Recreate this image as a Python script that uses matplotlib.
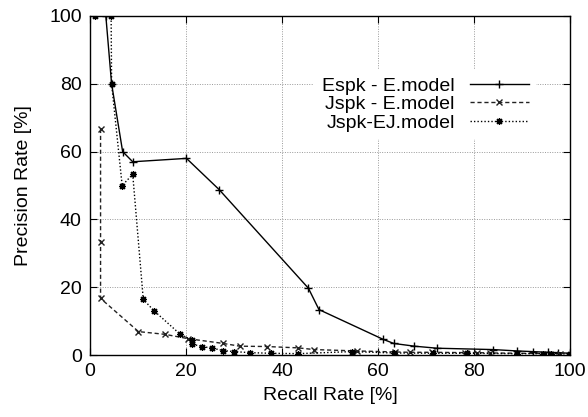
import matplotlib
matplotlib.use("Agg")
import matplotlib.pyplot as plt

plt.rcParams['font.family'] = ['Liberation Sans', 'DejaVu Sans']

espk_x = [3.3, 4.5, 6.8, 8.9, 20.1, 26.9, 45.5, 47.7, 61.1, 63.3, 67.6, 72.3, 84.0, 88.9, 92.2, 95.5, 97.5, 100]
espk_y = [100, 80, 60, 57, 58, 48.8, 19.7, 13.4, 4.6, 3.4, 2.6, 2.0, 1.6, 1.2, 1.0, 0.8, 0.7, 0.5]

jspk_e_x = [2.2, 2.2, 2.2, 10.1, 15.6, 20.5, 27.8, 31.2, 36.8, 43.4, 46.7, 55.6, 63.5, 66.7, 71.2, 78.1, 80.6, 83.3, 97.9]
jspk_e_y = [66.7, 33.3, 16.7, 6.9, 6.1, 4.8, 3.4, 2.6, 2.5, 2.1, 1.6, 1.2, 0.9, 0.8, 0.8, 0.7, 0.7, 0.6, 0.4]

jspk_ej_x = [1.0, 4.4, 4.5, 6.7, 8.9, 11.1, 13.3, 18.8, 21.2, 21.2, 23.4, 25.5, 27.8, 30.0, 33.3, 37.8, 43.4, 54.5, 63.3, 71.5, 78.5, 88.9, 94.4, 96.0, 100]
jspk_ej_y = [100, 100, 80, 50, 53.3, 16.4, 13.1, 6.1, 4.4, 3.2, 2.5, 2.0, 1.3, 1.0, 0.7, 0.5, 0.4, 1.0, 0.6, 0.5, 0.5, 0.4, 0.4, 0.4, 0.3]

labels = ["Espk - E.model", "Jspk - E.model", "Jspk-EJ.model"]
ticks = [0, 20, 40, 60, 80, 100]

fig = plt.figure(figsize=(5.88, 4.17), dpi=100)
ax = fig.add_axes([90/588, 62/417, 480/588, 339/417])

ax.plot(espk_x, espk_y, color='black', lw=1.0, ls='-', marker='+', ms=6, mew=1.0, label=labels[0])
ax.plot(jspk_e_x, jspk_e_y, color='#222222', lw=1.0, ls=(0, (3, 2)), marker='x', ms=5, mew=1.0, label=labels[1])
ax.plot(jspk_ej_x, jspk_ej_y, color='black', lw=1.0, ls=(0, (1, 1.5)), marker=(8, 2, 0), ms=5, mew=0.9, label=labels[2])

ax.set_xlim(0, 100)
ax.set_ylim(0, 100)
ax.set_xticks(ticks)
ax.set_yticks(ticks)
ax.tick_params(direction='in', top=True, right=True, length=5, labelsize=14, pad=6)
ax.grid(True, color='#999999', ls=(0, (1, 1.5)), lw=0.7)
for s in ax.spines.values():
    s.set_linewidth(1.0)

ax.set_xlabel("Recall Rate [%]", fontsize=14, labelpad=5)
ax.set_ylabel("Precision Rate [%]", fontsize=14, labelpad=12)

leg = ax.legend(loc='upper right', bbox_to_anchor=(0.95, 0.872), markerfirst=False,
                frameon=True, framealpha=1.0, edgecolor='none', facecolor='white',
                fontsize=14, handlelength=3.0, handletextpad=0.8, labelspacing=0.05,
                borderpad=0.4, fancybox=False)

fig.savefig("out.png", dpi=100)
